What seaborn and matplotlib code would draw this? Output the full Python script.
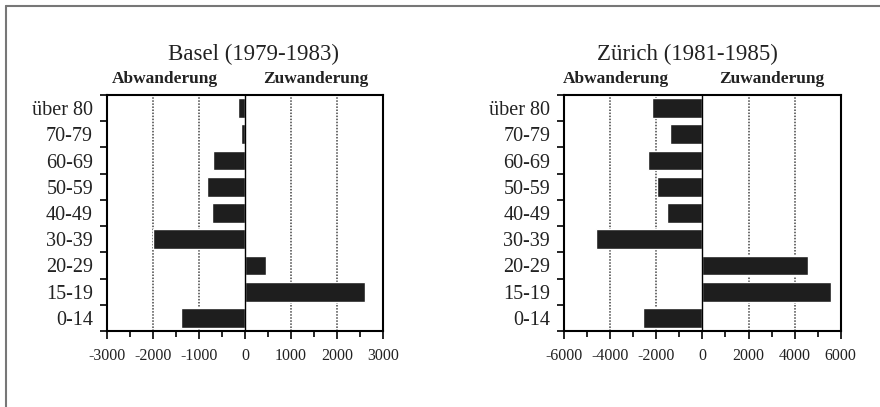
import numpy as np
import pandas as pd
import matplotlib.pyplot as plt
import seaborn as sns
from matplotlib.lines import Line2D
from matplotlib.ticker import MultipleLocator, FixedLocator

# Altersgruppen von oben nach unten
age_groups = ["über 80", "70-79", "60-69", "50-59", "40-49", "30-39", "20-29", "15-19", "0-14"]

# Wanderungssaldo (negativ = Abwanderung, positiv = Zuwanderung)
basel_values = [-150, -90, -690, -820, -720, -2000, 450, 2610, -1390]
zuerich_values = [-2200, -1420, -2350, -1990, -1550, -4630, 4600, 5570, -2580]

basel_ticks = [-3000, -2000, -1000, 0, 1000, 2000, 3000]
zuerich_ticks = [-6000, -4000, -2000, 0, 2000, 4000, 6000]

sns.set_style("white")
plt.rcParams["font.family"] = ["Liberation Serif", "DejaVu Serif"]

fig = plt.figure(figsize=(8.8, 4.07), dpi=100)

panels = [
    dict(title="Basel (1979-1983)", values=basel_values, ticks=basel_ticks,
         rect=[0.1216, 0.1867, 0.3136, 0.58], minor=500,
         abw=0.21, zuw=0.757, tx=0.53),
    dict(title="Zürich (1981-1985)", values=zuerich_values, ticks=zuerich_ticks,
         rect=[0.641, 0.1867, 0.3144, 0.58], minor=1000,
         abw=0.188, zuw=0.752, tx=0.447),
]

for p in panels:
    ax = fig.add_axes(p["rect"])
    df = pd.DataFrame({"Alter": age_groups, "Saldo": p["values"]})
    sns.barplot(data=df, x="Saldo", y="Alter", order=age_groups, orient="h",
                color="#1e1e1e", saturation=1, width=0.75, ax=ax)

    lo, hi = p["ticks"][0], p["ticks"][-1]
    ax.set_xlim(lo, hi)
    ax.set_ylim(8.5, -0.5)

    # gepunktete Gitterlinien
    for t in p["ticks"][1:-1]:
        if t == 0:
            ax.axvline(0, color="black", lw=1.0, zorder=3)
        else:
            ax.axvline(t, color="#444444", lw=1.1, ls=(0, (1, 1)), zorder=0)

    ax.xaxis.set_major_locator(FixedLocator(p["ticks"]))
    ax.xaxis.set_minor_locator(MultipleLocator(p["minor"]))
    ax.set_xticklabels([str(t) for t in p["ticks"]])
    ax.tick_params(axis="x", which="major", direction="out", length=6, width=1.2,
                   labelsize=11.5, pad=6, bottom=True, color="black",
                   labelcolor="#222222")
    ax.tick_params(axis="x", which="minor", direction="out", length=4, width=1.2,
                   bottom=True, color="black")

    ax.yaxis.set_minor_locator(FixedLocator(np.arange(-0.5, 9, 1.0)))
    ax.tick_params(axis="y", which="major", length=0, labelsize=14.5, pad=10,
                   labelcolor="#222222")
    ax.tick_params(axis="y", which="minor", direction="out", length=5, width=1.2,
                   left=True, color="black")

    ax.set_xlabel("")
    ax.set_ylabel("")
    for s in ax.spines.values():
        s.set_visible(True)
        s.set_color("black")
        s.set_linewidth(1.5)

    ax.text(p["tx"], 1.17, p["title"], transform=ax.transAxes, ha="center",
            va="center", fontsize=16.5, color="#222222")
    ax.text(p["abw"], 1.066, "Abwanderung", transform=ax.transAxes, ha="center",
            va="center", fontsize=12.5, fontweight="bold", color="#222222")
    ax.text(p["zuw"], 1.066, "Zuwanderung", transform=ax.transAxes, ha="center",
            va="center", fontsize=12.5, fontweight="bold", color="#222222")

# Rahmen oben und links
fig.add_artist(Line2D([6 / 880, 1], [1 - 6 / 407, 1 - 6 / 407],
                      transform=fig.transFigure, color="#777777", lw=1.5))
fig.add_artist(Line2D([6 / 880, 6 / 880], [0, 1 - 6 / 407],
                      transform=fig.transFigure, color="#777777", lw=1.5))

fig.savefig("out.png", dpi=100)
